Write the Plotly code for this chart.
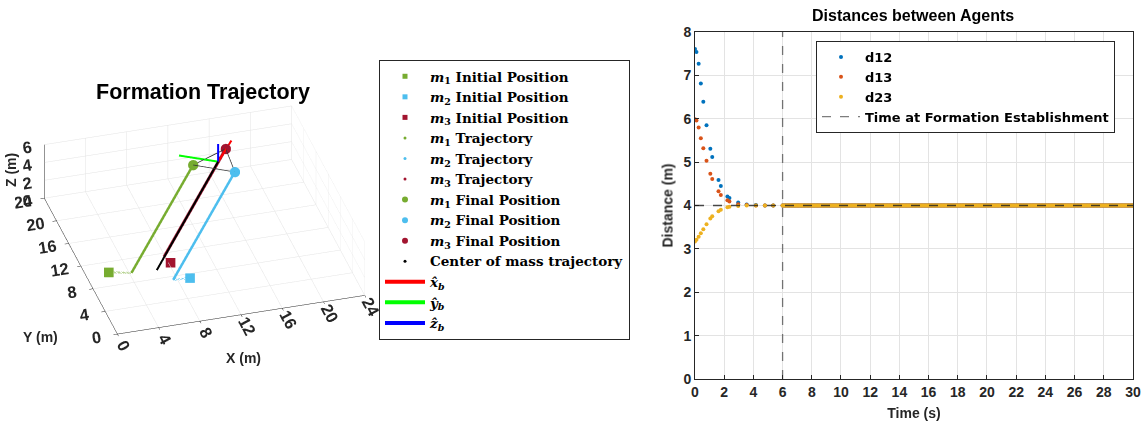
import plotly.graph_objects as go

# ---------------- data: distances between agents ----------------
t_early = [0.0, 0.1, 0.25, 0.4, 0.57, 0.79, 1.05, 1.18, 1.61, 1.77, 2.22, 2.36, 2.96, 3.54, 4.17, 4.79, 5.36]
d12_early = [7.61, 7.54, 7.27, 6.81, 6.39, 5.85, 5.31, 5.12, 4.59, 4.45, 4.21, 4.17, 4.07, 4.02, 4.01, 4.0, 4.0]
d13_early = [5.99, 5.96, 5.80, 5.55, 5.32, 5.03, 4.73, 4.61, 4.33, 4.24, 4.12, 4.09, 4.03, 4.01, 4.0, 4.0, 4.0]
d23_early = [3.17, 3.21, 3.28, 3.36, 3.45, 3.57, 3.70, 3.75, 3.87, 3.90, 3.96, 3.97, 3.99, 4.0, 4.0, 4.0, 4.0]
# after formation establishment, distances held at 4.0 m, sampled every 0.1 s
t_late = [round(6 + 0.1 * i, 1) for i in range(241)]
d_late = [4.0] * len(t_late)
formation_time = 6
desired_distance = 4

# ---------------- data: formation trajectory (x, y, z) in m ----------------
m1_init = [2.2, 10.3, 0.0]
m2_init = [9.2, 7.3, 0.0]
m3_init = [8.2, 10.3, 0.0]
m1_formed = [4.2, 9.6, 0.0]
m2_formed = [7.6, 7.4, 0.0]
m3_formed = [7.9, 11.4, 0.0]
m1_final = [13.2, 19.8, 4.0]
m2_final = [16.6, 17.6, 4.0]
m3_final = [16.9, 21.6, 4.0]
com_start = [6.6, 9.4, 0.0]
com_final = [15.6, 19.7, 4.0]
xb_tip = [17.8, 22.8, 4.0]
yb_tip = [12.4, 21.7, 4.0]
zb_tip = [15.6, 19.7, 6.6]

C1, C2, C3 = "#77AC30", "#4DBEEE", "#A2142F"
B12, O13, Y23 = "#0072BD", "#D95319", "#EDB120"
AX = "#262626"
GRID = "#e3e3e3"

fig = go.Figure()

def col(*pts):
    return ([p[0] for p in pts], [p[1] for p in pts], [p[2] for p in pts])

def lbl(sym, idx, text):
    return f"<b><i>{sym}</i><sub>{idx}</sub> {text}</b>"

# --- trajectories (lines) ---
x, y, z = col(com_start, com_final)
fig.add_trace(go.Scatter3d(x=x, y=y, z=z, mode="lines", line=dict(color="black", width=4),
                           showlegend=False, hoverinfo="skip"))
for init, formed, final, c in [(m1_init, m1_formed, m1_final, C1),
                               (m2_init, m2_formed, m2_final, C2),
                               (m3_init, m3_formed, m3_final, C3)]:
    x, y, z = col(init, formed)
    fig.add_trace(go.Scatter3d(x=x, y=y, z=z, mode="lines", line=dict(color=c, width=4, dash="dot"),
                               showlegend=False, hoverinfo="skip"))
    x, y, z = col(formed, final)
    fig.add_trace(go.Scatter3d(x=x, y=y, z=z, mode="lines", line=dict(color=c, width=6 if c == C3 else 5),
                               showlegend=False, hoverinfo="skip"))
# formation triangle at final time
x, y, z = col(m1_final, m2_final, m3_final, m1_final)
fig.add_trace(go.Scatter3d(x=x, y=y, z=z, mode="lines", line=dict(color="#333333", width=1.5),
                           showlegend=False, hoverinfo="skip"))

# --- legend entries in order ---
for p, c, i in [(m1_init, C1, 1), (m2_init, C2, 2), (m3_init, C3, 3)]:
    x, y, z = col(p)
    fig.add_trace(go.Scatter3d(x=x, y=y, z=z, mode="markers", name=lbl("m", i, "Initial Position"),
                               marker=dict(symbol="square", size=5, color=c, line=dict(width=0))))
for c, i in [(C1, 1), (C2, 2), (C3, 3)]:
    fig.add_trace(go.Scatter3d(x=[None], y=[None], z=[None], mode="markers", name=lbl("m", i, "Trajectory"),
                               marker=dict(size=3, color=c)))
for p, c, i in [(m1_final, C1, 1), (m2_final, C2, 2), (m3_final, C3, 3)]:
    x, y, z = col(p)
    fig.add_trace(go.Scatter3d(x=x, y=y, z=z, mode="markers", name=lbl("m", i, "Final Position"),
                               marker=dict(symbol="circle", size=6, color=c, line=dict(width=0))))
fig.add_trace(go.Scatter3d(x=[None], y=[None], z=[None], mode="markers",
                           name="<b>Center of mass trajectory</b>", marker=dict(size=3, color="black")))
for tip, c, s in [(xb_tip, "#FF0000", "x̂"), (yb_tip, "#00FF00", "ŷ"), (zb_tip, "#0000FF", "ẑ")]:
    x, y, z = col(com_final, tip)
    fig.add_trace(go.Scatter3d(x=x, y=y, z=z, mode="lines", line=dict(color=c, width=4),
                               name=f"<b><i>{s}</i><sub><i>b</i></sub></b>"))

# --- distances plot ---
for name, de, c in [("d12", d12_early, B12), ("d13", d13_early, O13), ("d23", d23_early, Y23)]:
    fig.add_trace(go.Scatter(x=t_early + t_late, y=de + d_late, mode="markers", name=f"<b>{name}</b>",
                             marker=dict(size=4, color=c), legend="legend2", xaxis="x", yaxis="y"))
fig.add_hline(y=desired_distance, line=dict(color="rgba(30,30,30,0.8)", width=1.3, dash="dash"))
fig.add_vline(x=formation_time, line=dict(color="rgba(38,38,38,0.6)", width=1.3, dash="dash"))
fig.add_trace(go.Scatter(x=[None], y=[None], mode="lines", name="<b>Time at Formation Establishment</b>",
                         line=dict(color="rgba(38,38,38,0.6)", width=1.3, dash="dash"), legend="legend2"))

tickf = dict(family="Liberation Sans", size=14, color=AX)
ax3 = dict(showbackground=False, gridcolor=GRID, gridwidth=1, zeroline=False, showline=True,
           linecolor=AX, linewidth=1, ticks="outside", tickcolor=AX, ticklen=4, title=dict(text=""),
           tickfont=dict(family="Liberation Sans", size=14, color=AX, weight="bold"), showspikes=False)
afont = dict(family="Liberation Sans", size=14, color=AX)

fig.update_layout(
    width=1148, height=429, margin=dict(l=0, r=0, t=0, b=0),
    paper_bgcolor="white", plot_bgcolor="white", showlegend=True,
    font=dict(family="Liberation Sans", color=AX),
    scene=dict(
        domain=dict(x=[0.013, 0.343], y=[0.107, 0.867]),
        xaxis=dict(ax3, range=[0, 24], dtick=4),
        yaxis=dict(ax3, range=[0, 24], dtick=4),
        zaxis=dict(ax3, range=[0, 6], dtick=2, ticks="", ticklen=0),
        aspectmode="manual", aspectratio=dict(x=1.58, y=1.61, z=0.39),
        camera=dict(eye=dict(x=-0.47, y=-1.62, z=1.08), up=dict(x=0, y=0, z=1),
                    center=dict(x=0, y=0, z=0), projection=dict(type="orthographic")),
    ),
    xaxis=dict(domain=[0.6054, 0.9869], range=[0, 30], dtick=2, showgrid=True, gridcolor=GRID,
               zeroline=False, showline=True, mirror=True, linecolor=AX, ticks="inside", ticklen=4,
               tickcolor=AX, tickfont=tickf, tickprefix="<b>", ticksuffix="</b>", automargin=False,
               title=dict(text="<b>Time (s)</b>", font=dict(size=14, color=AX), standoff=9)),
    yaxis=dict(domain=[0.1166, 0.9254], range=[0, 8], dtick=1, showgrid=True, gridcolor=GRID,
               zeroline=False, showline=True, mirror=True, linecolor=AX, ticks="inside", ticklen=4,
               tickcolor=AX, tickfont=tickf, tickprefix="<b>", ticksuffix="</b>", automargin=False,
               title=dict(text="<b>Distance (m)</b>", font=dict(size=14, color=AX), standoff=6)),
    legend=dict(x=379 / 1148, y=1 - 60 / 429, xanchor="left", yanchor="top", bgcolor="white",
                bordercolor=AX, borderwidth=1, font=dict(family="DejaVu Serif", size=13.5, color="black"),
                traceorder="normal", itemwidth=40, tracegroupgap=0),
    legend2=dict(x=816 / 1148, y=1 - 41 / 429, xanchor="left", yanchor="top", bgcolor="white",
                 bordercolor=AX, borderwidth=1, font=dict(family="DejaVu Sans", size=13, color="black"),
                 traceorder="normal", itemwidth=38),
    annotations=[
        dict(text="<b>Formation Trajectory</b>", x=203 / 1148, y=1 - 92 / 429, xref="paper", yref="paper",
             xanchor="center", yanchor="middle", showarrow=False,
             font=dict(family="Liberation Sans", size=21.5, color="black")),
        dict(text="<b>Distances between Agents</b>", x=913 / 1148, y=1 - 16 / 429, xref="paper", yref="paper",
             xanchor="center", yanchor="middle", showarrow=False,
             font=dict(family="Liberation Sans", size=16, color="black")),
        dict(text="<b>X (m)</b>", x=243 / 1148, y=1 - 358 / 429, xref="paper", yref="paper",
             xanchor="center", yanchor="middle", showarrow=False, font=afont),
        dict(text="<b>Y (m)</b>", x=40 / 1148, y=1 - 337 / 429, xref="paper", yref="paper",
             xanchor="center", yanchor="middle", showarrow=False, font=afont),
        dict(text="<b>Z (m)</b>", x=11 / 1148, y=1 - 170 / 429, xref="paper", yref="paper",
             xanchor="center", yanchor="middle", showarrow=False, textangle=-90, font=afont),
    ],
)

fig.write_html("out.html")
